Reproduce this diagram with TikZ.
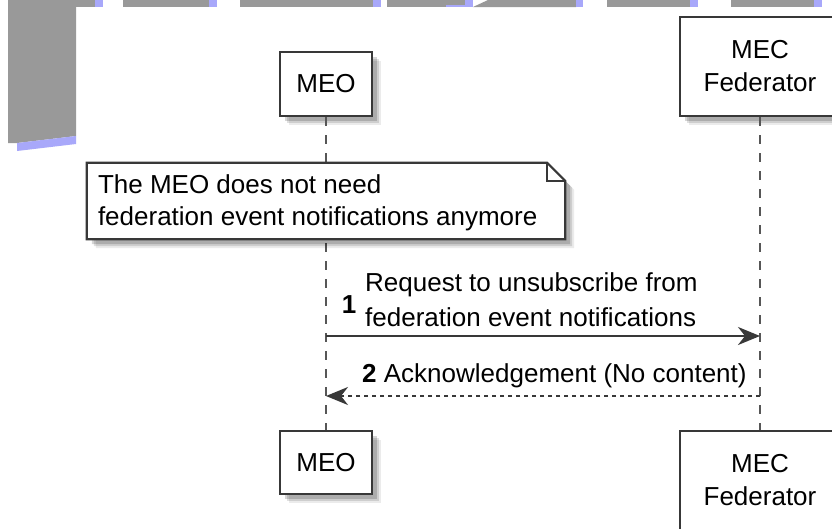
\documentclass[tikz,border=0pt]{standalone}
\usepackage{fontspec}
\setmainfont{Liberation Sans}
\usetikzlibrary{arrows.meta,shadows,calc}
\definecolor{artgray}{HTML}{999999}
\definecolor{artblue}{HTML}{A8A8FA}
\definecolor{linec}{HTML}{383838}
\begin{document}
\begin{tikzpicture}[x=1pt,y=-1pt,
  blurshadow/.style={
    general shadow={fill=black,opacity=.08,shadow xshift=9pt,shadow yshift=-9pt},
    general shadow={fill=black,opacity=.12,shadow xshift=7pt,shadow yshift=-7pt},
    general shadow={fill=black,opacity=.16,shadow xshift=5pt,shadow yshift=-5pt}},
  pbox/.style={draw=linec, line width=2.6pt, fill=white, align=center,
    font=\fontsize{26}{33}\selectfont, inner sep=0pt, blurshadow},
  lifeline/.style={draw=linec!85, line width=1.8pt, dash pattern=on 9pt off 9pt},
  msgline/.style={draw=linec, line width=2.2pt,
    -{Stealth[length=22pt,width=18pt,inset=7pt]}},
  lbl/.style={font=\fontsize{26}{35}\selectfont, align=left, inner sep=0pt},
  num/.style={font=\fontsize{26}{30}\selectfont\bfseries, inner sep=0pt},
  notebox/.style={minimum width=478pt, minimum height=76pt, inner sep=0pt},
  notetext/.style={font=\fontsize{26}{32}\selectfont, align=left, inner sep=0pt}
]
\useasboundingbox (0,0) rectangle (832,528);
\fill[white] (0,0) rectangle (832,528);

% stray artefacts at the top-left
\fill[artgray] (8,0) -- (76,0) -- (76,136) -- (17,143) -- (8,143) -- cycle;
\fill[artblue] (17,143) -- (76,136) -- (76,144) -- (17,151) -- cycle;
\fill[artgray] (8,0) rectangle (95,7);
\fill[artblue] (95,0) rectangle (103,7);
\fill[artgray] (123,0) rectangle (209,7);
\fill[artblue] (209,0) rectangle (217,7);
\fill[artgray] (240,0) rectangle (373,7);
\fill[artblue] (373,0) rectangle (381,7);
\fill[artgray] (387,0) rectangle (465,7);
\fill[artblue] (446,5) rectangle (465,7);
\fill[artblue] (465,0) rectangle (473,7);
\fill[artgray] (473,7) -- (488,0) -- (576,0) -- (576,7) -- cycle;
\fill[artblue] (576,0) rectangle (583,7);
\fill[artgray] (607,0) rectangle (690,7);
\fill[artblue] (690,0) rectangle (698,7);
\fill[artgray] (731,0) rectangle (814,7);
\fill[artblue] (814,0) rectangle (822,7);

% participants
\node[pbox, minimum width=92pt, minimum height=64pt] (meoT) at (326,84) {MEO};
\node[pbox, minimum width=160pt, minimum height=99pt] (fedT) at (760,66.5) {MEC\\Federator};
\node[pbox, minimum width=92pt, minimum height=63pt] (meoB) at (326,462.5) {MEO};
\node[pbox, minimum width=160pt, minimum height=99pt] (fedB) at (760,480.5) {MEC\\Federator};

% lifelines
\draw[lifeline] (meoT) -- (meoB);
\draw[lifeline] (fedT) -- (fedB);

% note
\node[notebox] (note) at (326,201) {};
\draw[draw=linec, line width=2.2pt, fill=white, blurshadow]
  (note.north west) -- ($(note.north east)+(-18,0)$) -- ($(note.north east)+(0,18)$)
  -- (note.south east) -- (note.south west) -- cycle;
\draw[draw=linec, line width=1.6pt]
  ($(note.north east)+(-18,0)$) -- ($(note.north east)+(-18,18)$) -- ($(note.north east)+(0,18)$);
\node[notetext, anchor=west] (notet) at ($(note.west)+(11,2)$)
  {The MEO does not need\\federation event notifications anymore};

% messages
\coordinate (a1) at (326,336);
\coordinate (b1) at (760,336);
\coordinate (a2) at (326,396);
\coordinate (b2) at (760,396);
\draw[msgline] (a1) -- (b1);
\draw[msgline, dash pattern=on 4pt off 4pt] (b2) -- (a2);
\node[num] (n1) at (349,305) {1};
\node[lbl, anchor=west] (t1) at (365,300)
  {Request to unsubscribe from\\federation event notifications};
\node[lbl, anchor=west] (t2) at (362,375.5)
  {\textbf{2} Acknowledgement (No content)};
\end{tikzpicture}
\end{document}
